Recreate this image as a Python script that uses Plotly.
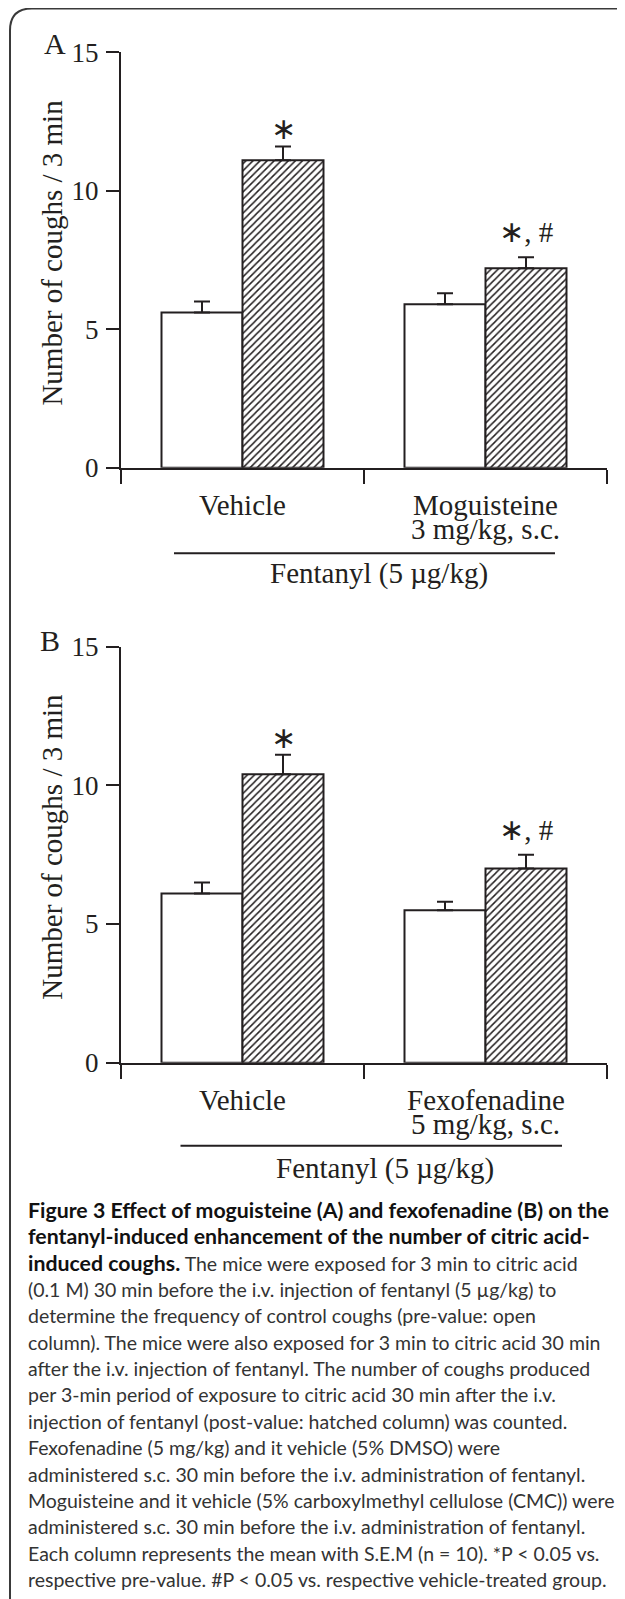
import plotly.graph_objects as go

# reference canvas; the page body adds an 8px margin, so the figure is drawn 8px smaller
REF_W, REF_H = 625, 1599
BODY = 8
W, H = REF_W - BODY, REF_H - BODY

# ---------------- data ----------------
groups_A = ["Vehicle", "Moguisteine"]
groups_A_sub = ["", "3 mg/kg, s.c."]
pre_A = [5.6, 5.9]
pre_A_err = [0.4, 0.4]
post_A = [11.1, 7.2]
post_A_err = [0.5, 0.4]
sig_A = ["*", "*, #"]

groups_B = ["Vehicle", "Fexofenadine"]
groups_B_sub = ["", "5 mg/kg, s.c."]
pre_B = [6.1, 5.5]
pre_B_err = [0.4, 0.3]
post_B = [10.4, 7.0]
post_B_err = [0.7, 0.5]
sig_B = ["*", "*, #"]

y_ticks = [0, 5, 10, 15]
y_title = "Number of coughs / 3 min"
group_title = "Fentanyl (5 \u00b5g/kg)"

caption_lines = [
    "<b>Figure 3 Effect of moguisteine (A) and fexofenadine (B) on the</b>",
    "<b>fentanyl-induced enhancement of the number of citric acid-</b>",
    "<b>induced coughs.</b> The mice were exposed for 3 min to citric acid",
    "(0.1 M) 30 min before the i.v. injection of fentanyl (5 \u00b5g/kg) to",
    "determine the frequency of control coughs (pre-value: open",
    "column). The mice were also exposed for 3 min to citric acid 30 min",
    "after the i.v. injection of fentanyl. The number of coughs produced",
    "per 3-min period of exposure to citric acid 30 min after the i.v.",
    "injection of fentanyl (post-value: hatched column) was counted.",
    "Fexofenadine (5 mg/kg) and it vehicle (5% DMSO) were",
    "administered s.c. 30 min before the i.v. administration of fentanyl.",
    "Moguisteine and it vehicle (5% carboxylmethyl cellulose (CMC)) were",
    "administered s.c. 30 min before the i.v. administration of fentanyl.",
    "Each column represents the mean with S.E.M (n = 10). *P < 0.05 vs.",
    "respective pre-value. #P < 0.05 vs. respective vehicle-treated group.",
]

# ---------------- style ----------------
SERIF = "Liberation Serif, Times New Roman, serif"
SANS = "Lato, Liberation Sans, sans-serif"
STAR_FONT = "DejaVu Sans"
INK = "#231f20"
CAPTION_INK = "#333333"


def px_x(v):
    return (v - BODY) / W


def px_y(v):
    return 1 - (v - BODY) / H


def star_text(s):
    # render the asterisk with a larger six-armed star glyph
    return s.replace("*", f'<span style="font-family:{STAR_FONT};font-size:30px">\u2217</span>')


fig = go.Figure()

panels = [
    dict(letter="A", groups=groups_A, subs=groups_A_sub, pre=pre_A, pre_err=pre_A_err,
         post=post_A, post_err=post_A_err, sig=sig_A, xa="x", ya="y",
         top=52.3, bottom=467.7, letter_xy=(55, 43), title_y=252.6,
         line_y=553.3, line_x=(174, 555), fent_xy=(379, 573)),
    dict(letter="B", groups=groups_B, subs=groups_B_sub, pre=pre_B, pre_err=pre_B_err,
         post=post_B, post_err=post_B_err, sig=sig_B, xa="x2", ya="y2",
         top=646.7, bottom=1062.7, letter_xy=(50, 640), title_y=846.7,
         line_y=1145.7, line_x=(180.5, 562), fent_xy=(385, 1168)),
]

x_left, x_right = 121, 607
annotations = []
shapes = []

for i, p in enumerate(panels):
    xs = list(range(len(p["groups"])))
    fig.add_trace(go.Bar(
        x=xs, y=p["pre"], xaxis=p["xa"], yaxis=p["ya"],
        marker=dict(color="white", line=dict(color=INK, width=2)),
        error_y=dict(type="data", symmetric=False, array=p["pre_err"],
                     arrayminus=[0] * len(xs), color=INK, thickness=2, width=8),
        offsetgroup="pre", showlegend=False, hoverinfo="skip",
    ))
    fig.add_trace(go.Bar(
        x=xs, y=p["post"], xaxis=p["xa"], yaxis=p["ya"],
        marker=dict(color="white", line=dict(color=INK, width=2),
                    pattern=dict(shape="/", fgcolor=INK, bgcolor="white",
                                 size=5, solidity=0.3)),
        error_y=dict(type="data", symmetric=False, array=p["post_err"],
                     arrayminus=[0] * len(xs), color=INK, thickness=2, width=8),
        offsetgroup="post", showlegend=False, hoverinfo="skip",
    ))
    # significance marks above hatched bars
    for j, s in enumerate(p["sig"]):
        annotations.append(dict(
            x=xs[j] + 1 / 6, y=p["post"][j] + p["post_err"][j],
            xref=p["xa"], yref=p["ya"], text=star_text(s), showarrow=False,
            xanchor="center", yanchor="bottom", yshift=-2 if s == "*" else 6,
            font=dict(family=SERIF, size=29, color=INK),
        ))
    # category labels
    for j, g in enumerate(p["groups"]):
        xc = px_x(x_left + (x_right - x_left) * (j + 0.5) / len(xs))
        annotations.append(dict(
            x=xc, y=px_y(p["bottom"] + 37), xref="paper", yref="paper",
            text=g, showarrow=False, xanchor="center", yanchor="middle",
            font=dict(family=SERIF, size=29, color=INK)))
        if p["subs"][j]:
            annotations.append(dict(
                x=xc, y=px_y(p["bottom"] + 61), xref="paper", yref="paper",
                text=p["subs"][j], showarrow=False, xanchor="center", yanchor="middle",
                font=dict(family=SERIF, size=29, color=INK)))
    # fentanyl bracket line + label
    shapes.append(dict(type="line", xref="paper", yref="paper",
                       x0=px_x(p["line_x"][0]), x1=px_x(p["line_x"][1]),
                       y0=px_y(p["line_y"]), y1=px_y(p["line_y"]),
                       line=dict(color=INK, width=2)))
    annotations.append(dict(
        x=px_x(p["fent_xy"][0]), y=px_y(p["fent_xy"][1]), xref="paper", yref="paper",
        text=group_title, showarrow=False, xanchor="center", yanchor="middle",
        font=dict(family=SERIF, size=29, color=INK)))
    # panel letter
    annotations.append(dict(
        x=px_x(p["letter_xy"][0]), y=px_y(p["letter_xy"][1]), xref="paper", yref="paper",
        text=p["letter"], showarrow=False, xanchor="center", yanchor="middle",
        font=dict(family=SERIF, size=30, color=INK)))
    # y title
    annotations.append(dict(
        x=px_x(52), y=px_y(p["title_y"]), xref="paper", yref="paper",
        text=y_title, textangle=-90, showarrow=False, xanchor="center", yanchor="middle",
        font=dict(family=SERIF, size=29, color=INK)))

    xkey = "xaxis" if i == 0 else "xaxis2"
    ykey = "yaxis" if i == 0 else "yaxis2"
    fig.update_layout(**{
        xkey: dict(domain=[px_x(x_left), px_x(x_right)], range=[-0.5, len(xs) - 0.5],
                   anchor=p["ya"], tickvals=[k - 0.5 for k in range(len(xs) + 1)],
                   showticklabels=False, ticks="outside", ticklen=14, tickwidth=2,
                   tickcolor=INK, showline=True, linecolor=INK, linewidth=2,
                   showgrid=False, zeroline=False, fixedrange=True, automargin=False),
        ykey: dict(domain=[px_y(p["bottom"]), px_y(p["top"])], range=[0, 15],
                   anchor=p["xa"], tickvals=y_ticks, ticks="outside", ticklen=13,
                   tickwidth=2, tickcolor=INK, showline=True, linecolor=INK,
                   linewidth=2, showgrid=False, zeroline=False,
                   tickfont=dict(family=SERIF, size=27, color=INK),
                   ticklabelstandoff=2, fixedrange=True, automargin=False),
    })

# caption
cap_top, cap_step = 1210, 26.4
for k, line in enumerate(caption_lines):
    line = line.replace("<b>", '<span style="font-size:21.3px;color:#111111"><b>').replace("</b>", "</b></span>")
    annotations.append(dict(
        x=px_x(26), y=px_y(cap_top + k * cap_step), xref="paper", yref="paper",
        text=line, showarrow=False, xanchor="left", yanchor="middle", align="left",
        font=dict(family=SANS, size=19.5, color=CAPTION_INK)))

# rounded frame (top-left corner visible, runs off the right/bottom edges)
fx, fy, r = 10, 8.5, 22
path = (f"M {px_x(fx)},{px_y(REF_H + 20)} L {px_x(fx)},{px_y(fy + r)} "
        f"Q {px_x(fx)},{px_y(fy)} {px_x(fx + r)},{px_y(fy)} L {px_x(REF_W + 20)},{px_y(fy)}")
shapes.append(dict(type="path", xref="paper", yref="paper", path=path,
                   line=dict(color="#3a3a3a", width=2)))

fig.update_layout(
    template="none",
    width=W, height=H, margin=dict(l=0, r=0, t=0, b=0, pad=0, autoexpand=False),
    paper_bgcolor="white", plot_bgcolor="white",
    barmode="group", bargap=1 / 3, bargroupgap=0,
    annotations=annotations, shapes=shapes, showlegend=False,
)

fig.write_html("out.html", config={"displayModeBar": False})
